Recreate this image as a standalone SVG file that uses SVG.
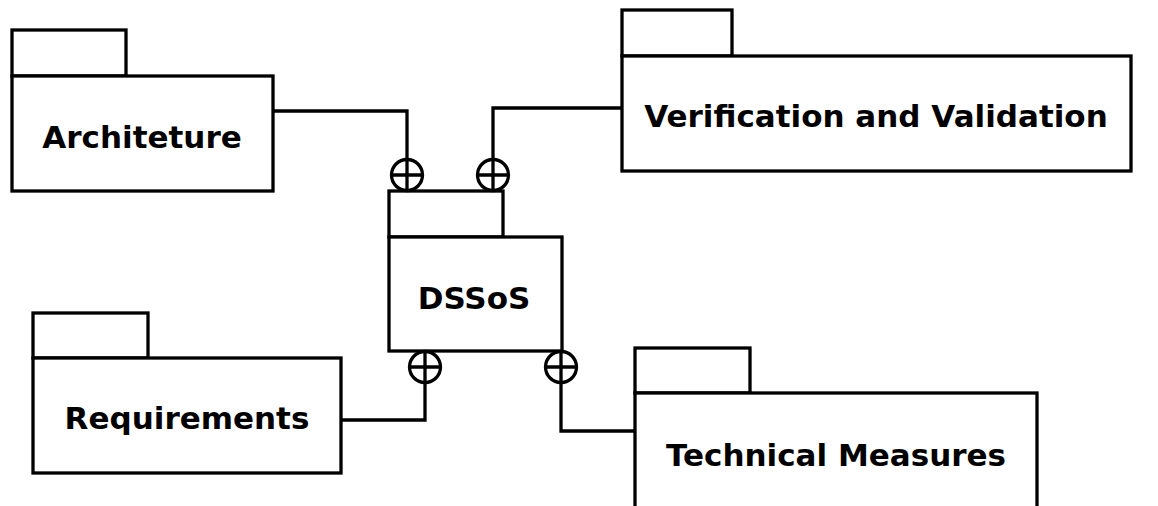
<svg xmlns="http://www.w3.org/2000/svg" width="1158" height="506" viewBox="0 0 1158 506">
<style>
.box{fill:#fff;stroke:#000;stroke-width:3.3;stroke-linejoin:miter}
.lbl{font-family:"DejaVu Sans",sans-serif;font-weight:bold;font-size:31px;fill:#000;text-anchor:middle}
.wire{fill:none;stroke:#000;stroke-width:3.3}
.plus{fill:#fff;stroke:#000;stroke-width:3.3}
</style>
<defs>
<g id="oplus"><circle class="plus" cx="0" cy="0" r="15.5"/><path class="wire" d="M-15.5 0H15.5M0 -15.5V15.5"/></g>
</defs>
<rect width="1158" height="506" fill="#fff"/>
<g id="connectors">
<path class="wire" d="M273 111H407V159"/>
<path class="wire" d="M622 108H493V159"/>
<path class="wire" d="M341 420H425V383"/>
<path class="wire" d="M561 383V431H635"/>
</g>
<g id="architeture">
<rect class="box" x="12" y="30" width="114" height="46"/>
<rect class="box" x="12" y="76" width="261" height="115"/>
<text class="lbl" x="142" y="148">Architeture</text>
</g>
<g id="vv">
<rect class="box" x="622" y="10" width="110" height="46"/>
<rect class="box" x="622" y="56" width="509" height="115"/>
<text class="lbl" x="876" y="127">Verification and Validation</text>
</g>
<g id="requirements">
<rect class="box" x="33" y="313" width="115" height="45"/>
<rect class="box" x="33" y="358" width="308" height="115"/>
<text class="lbl" x="187" y="429">Requirements</text>
</g>
<g id="technical">
<rect class="box" x="635" y="348" width="115" height="45"/>
<rect class="box" x="635" y="393" width="402" height="130"/>
<text class="lbl" x="836" y="466">Technical Measures</text>
</g>
<g id="dssos">
<rect class="box" x="389" y="191" width="114" height="46"/>
<rect class="box" x="389" y="237" width="173" height="114"/>
<text class="lbl" x="474" y="309">DSSoS</text>
</g>
<g id="ports">
<use href="#oplus" x="407" y="175"/>
<use href="#oplus" x="493" y="175"/>
<use href="#oplus" x="425" y="367"/>
<use href="#oplus" x="561" y="367"/>
</g>
</svg>
